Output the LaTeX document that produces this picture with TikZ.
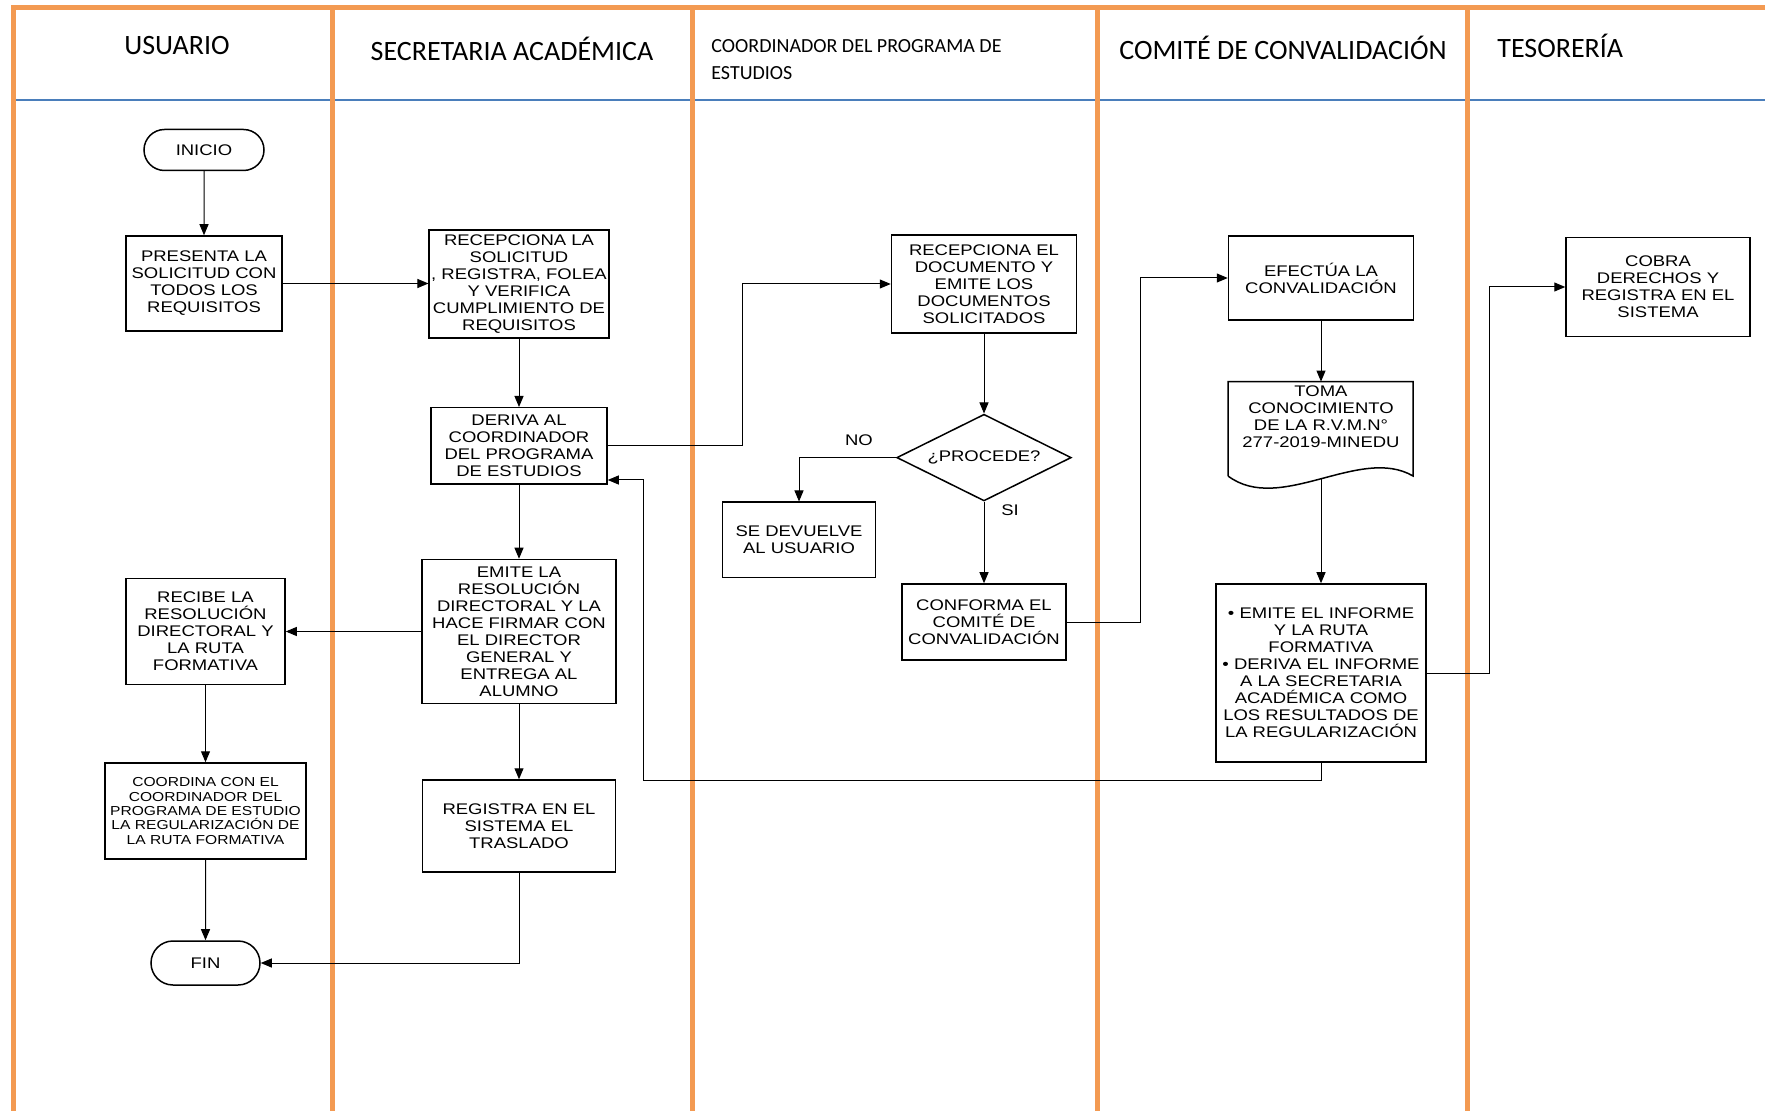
\documentclass[tikz,border=0pt]{standalone}
\usepackage{fontspec}
\newfontfamily\boxfont[FakeStretch=1.2]{Liberation Sans}
\newfontfamily\hdrfont{Carlito}
\usetikzlibrary{shapes.geometric,shapes.misc,arrows.meta}
\definecolor{laneorange}{HTML}{F39A52}
\definecolor{laneblue}{HTML}{4A7EBB}
\tikzset{
 box/.style={draw, line width=0.75pt, rectangle, align=center, inner sep=1pt, font=\boxfont\fontsize{7.7}{8.5}\selectfont},
 term/.style={box, rounded rectangle},
 dec/.style={box, diamond, aspect=2},
 arr/.style={line width=0.5pt, -{Triangle[length=5.5pt,width=4.5pt]}},
 conn/.style={line width=0.5pt},
 lane/.style={laneorange, line width=2.5pt},
 hdr/.style={font=\hdrfont\fontsize{14}{17}\selectfont, inner sep=0pt},
 lbl/.style={font=\boxfont\fontsize{7.7}{8.5}\selectfont, inner sep=0pt, align=center},
}
\begin{document}
\begin{tikzpicture}[x=0.5pt,y=-0.5pt]
\useasboundingbox (0,0) rectangle (1765,1111);
\fill[white] (0,0) rectangle (1765,1111);
% lanes
\draw[laneblue, line width=1pt] (13.5,100) -- (1765,100);
\draw[lane] (13.5,1111) -- (13.5,8) -- (1765,8);
\foreach \xx in {332,692,1097.5,1467} \draw[lane] (\xx,8) -- (\xx,1111);
% headers
\node[hdr] (hUsuario) at (177,46) {USUARIO};
\node[hdr] (hSec) at (512,49) {SECRETARIA ACADÉMICA};
\node[hdr, anchor=west, align=left, font=\hdrfont\fontsize{10}{13.5}\selectfont] (hCoord) at (711,59.5) {COORDINADOR DEL PROGRAMA DE\\ESTUDIOS};
\node[hdr] (hCom) at (1283,48) {COMITÉ DE CONVALIDACIÓN};
\node[hdr, anchor=west] (hTes) at (1497,46) {TESORERÍA};
% usuario
\node[term, minimum width=62pt, minimum height=20.5pt] (inicio) at (204,150) {INICIO};
\node[box, minimum width=78pt, minimum height=47.5pt] (presenta) at (204,283.5) {PRESENTA LA\\SOLICITUD CON\\TODOS LOS\\REQUISITOS};
\node[box, minimum width=79.5pt, minimum height=52.75pt] (recibe) at (205.5,631.5) {RECIBE LA\\RESOLUCIÓN\\DIRECTORAL Y\\LA RUTA\\FORMATIVA};
\node[box, minimum width=100.5pt, minimum height=48pt, font=\boxfont\fontsize{6.5}{7.2}\selectfont] (coordina) at (205.5,811) {COORDINA CON EL\\COORDINADOR DEL\\PROGRAMA DE ESTUDIO\\LA REGULARIZACIÓN DE\\LA RUTA FORMATIVA};
\node[term, minimum width=56.5pt, minimum height=22pt] (fin) at (205.5,963) {FIN};
% secretaria
\node[box, minimum width=88pt, minimum height=54pt] (recsol) at (519,284) {RECEPCIONA LA\\SOLICITUD\\, REGISTRA, FOLEA\\Y VERIFICA\\CUMPLIMIENTO DE\\REQUISITOS};
\node[box, minimum width=88pt, minimum height=38.25pt] (deriva) at (519,446) {DERIVA AL\\COORDINADOR\\DEL PROGRAMA\\DE ESTUDIOS};
\node[box, minimum width=97pt, minimum height=72pt] (emres) at (519,631.5) {EMITE LA\\RESOLUCIÓN\\DIRECTORAL Y LA\\HACE FIRMAR CON\\EL DIRECTOR\\GENERAL Y\\ENTREGA AL\\ALUMNO};
\node[box, minimum width=96.5pt, minimum height=46pt] (registra) at (519,826) {REGISTRA EN EL\\SISTEMA EL\\TRASLADO};
% coordinador
\node[box, minimum width=92.5pt, minimum height=49pt] (recdoc) at (984,284) {RECEPCIONA EL\\DOCUMENTO Y\\EMITE LOS\\DOCUMENTOS\\SOLICITADOS};
\node[dec, minimum width=87.25pt, minimum height=43.35pt, inner sep=0pt] (proc) at (984,457.6) {¿PROCEDE?};
\node[box, minimum width=76.5pt, minimum height=37.75pt] (devuelve) at (799,540) {SE DEVUELVE\\AL USUARIO};
\node[box, minimum width=82pt, minimum height=38pt] (conforma) at (984,622) {CONFORMA EL\\COMITÉ DE\\CONVALIDACIÓN};
\node[lbl] (no) at (859,440) {NO};
\node[lbl] (si) at (1010,510) {SI};
% comite
\node[box, minimum width=92.5pt, minimum height=42pt] (efectua) at (1321,278) {EFECTÚA LA\\CONVALIDACIÓN};
\draw[line width=0.75pt] (1228,476) -- (1228,381.6) -- (1413,381.6) -- (1413,476) .. controls (1360,445) and (1280,515) .. (1228,476);
\node[lbl] (toma) at (1321,417) {TOMA\\CONOCIMIENTO\\DE LA R.V.M.N°\\277-2019-MINEDU};
\coordinate (tomaTop) at (1321,381.6);
\coordinate (tomaBot) at (1321,479);
\node[box, minimum width=105pt, minimum height=89pt] (informe) at (1321,673) {• EMITE EL INFORME\\Y LA RUTA\\FORMATIVA\\• DERIVA EL INFORME\\A LA SECRETARIA\\ACADÉMICA COMO\\LOS RESULTADOS DE\\LA REGULARIZACIÓN};
% tesoreria
\node[box, minimum width=92pt, minimum height=49.5pt] (cobra) at (1658,287) {COBRA\\DERECHOS Y\\REGISTRA EN EL\\SISTEMA};
% connectors
\draw[arr] (inicio) -- (presenta);
\draw[arr] (presenta.east) -- (presenta.east -| recsol.west);
\draw[arr] (recsol) -- (deriva);
\draw[arr] (deriva) -- (emres);
\draw[arr] (emres) -- (registra);
\draw[arr] (emres.west) -- (emres.west -| recibe.east);
\draw[arr] (recibe) -- (coordina);
\draw[arr] (coordina) -- (fin);
\draw[arr] (registra.south) |- (fin.east);
\draw[arr] (deriva.east) -- (742,446) |- (recdoc.west);
\draw[arr] (recdoc) -- (proc);
\draw[arr] (proc.west) -| (devuelve.north);
\draw[arr] (proc.south) -- (conforma.north);
\draw[arr] (conforma.east) -- (1140,622) |- (efectua.west);
\draw[arr] (efectua.south) -- (tomaTop);
\draw[arr] (tomaBot) -- (informe.north);
\draw[arr] (informe.east) -- (1489,673) |- (cobra.west);
\draw[arr] (informe.south) -- (1321,780) -- (643,780) -- (643,480) -- (deriva.east |- 0,480);
\end{tikzpicture}
\end{document}
